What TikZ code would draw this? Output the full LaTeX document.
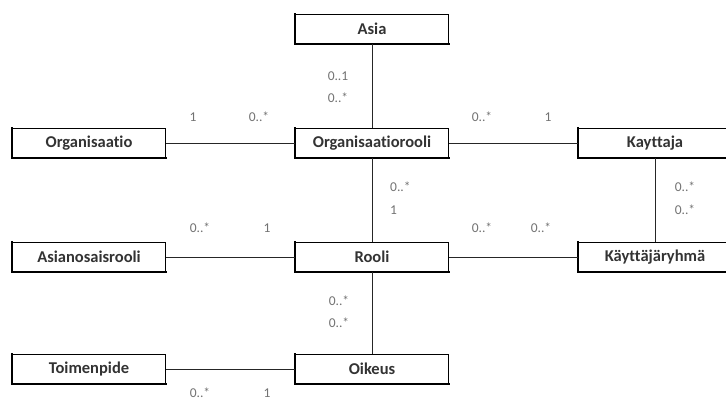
\documentclass[tikz,border=0pt]{standalone}
\usepackage{fontspec}
\setmainfont[Ligatures=NoCommon]{Carlito}
\begin{document}
\begin{tikzpicture}[x=1pt,y=-1pt,
  entity/.style={draw=black, line width=0.7pt, fill=white, minimum width=153pt,
    minimum height=29pt, inner sep=0pt, font=\fontsize{16.5}{18}\selectfont\bfseries, text=black!80},
  link/.style={draw=black!85, line width=0.8pt},
  mult/.style={font=\fontsize{13.5}{15}\selectfont, text=black!55, inner sep=0pt}]
\useasboundingbox[fill=white] (0,0) rectangle (726,400);

% entities
\node[entity] (asia)   at (372,29)  {Asia};
\node[entity] (orgrol) at (372,143) {Organisaatiorooli};
\node[entity] (rooli)  at (372,257) {Rooli};
\node[entity] (oikeus) at (372,369) {Oikeus};
\node[entity] (org)    at (89,143)  {Organisaatio};
\node[entity] (asrol)  at (89,257)  {Asianosaisrooli};
\node[entity] (toim)   at (89,369)  {Toimenpide};
\node[entity] (kaytt)  at (655,143) {Kayttaja};
\node[entity] (ryhma)  at (655,257) {Käyttäjäryhmä};

% heavier left and bottom edges of each box
\foreach \n in {asia,orgrol,rooli,oikeus,org,asrol,toim,kaytt,ryhma}
  \draw[line width=1.4pt, line cap=rect] (\n.north west) -- (\n.south west) -- (\n.south east);

% associations
\draw[link] (asia) -- (orgrol);
\draw[link] (org) -- (orgrol);
\draw[link] (orgrol) -- (kaytt);
\draw[link] (orgrol) -- (rooli);
\draw[link] (kaytt) -- (ryhma);
\draw[link] (asrol) -- (rooli);
\draw[link] (rooli) -- (ryhma);
\draw[link] (rooli) -- (oikeus);
\draw[link] (toim) -- (oikeus);

% multiplicities
\node[mult] (m1)  at (338,76)  {0..1};
\node[mult] (m2)  at (338,98)  {0..*};
\node[mult] (m3)  at (193,117) {1};
\node[mult] (m4)  at (259,117) {0..*};
\node[mult] (m5)  at (482,117) {0..*};
\node[mult] (m6)  at (548,117) {1};
\node[mult, anchor=west] (m7) at (390,187) {0..*};
\node[mult, anchor=west] (m8) at (390,210) {1};
\node[mult] (m9)  at (685,187) {0..*};
\node[mult] (m10) at (685,210) {0..*};
\node[mult] (m11) at (200,228) {0..*};
\node[mult] (m12) at (267,228) {1};
\node[mult] (m13) at (482,228) {0..*};
\node[mult] (m14) at (541,228) {0..*};
\node[mult] (m15) at (339,301) {0..*};
\node[mult] (m16) at (339,323) {0..*};
\node[mult] (m17) at (200,393) {0..*};
\node[mult] (m18) at (267,393) {1};
\end{tikzpicture}
\end{document}
